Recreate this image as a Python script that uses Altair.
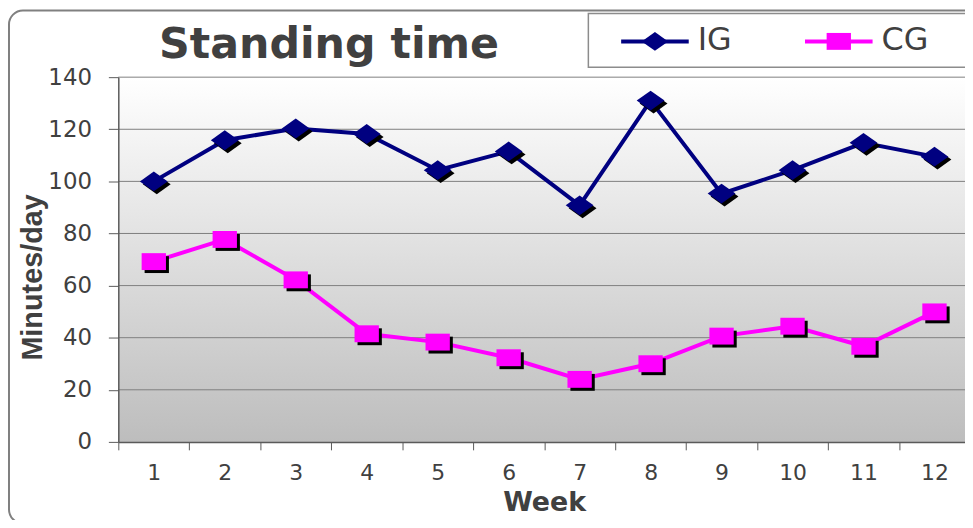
import altair as alt
import pandas as pd

# ---- data ----
weeks = list(range(1, 13))
ig_values = [100.0, 115.8, 120.3, 118.2, 104.3, 111.5, 90.8, 131.0, 95.3, 104.3, 114.8, 109.5]
cg_values = [69.2, 77.7, 62.2, 41.5, 38.3, 32.3, 24.0, 30.0, 40.6, 44.4, 36.7, 49.9]
series_names = ["IG", "CG"]
series_colors = ["#000080", "#ff00ff"]
y_ticks = [0, 20, 40, 60, 80, 100, 120, 140]
chart_title = "Standing time"
x_title = "Week"
y_title = "Minutes/day"

# ---- layout ----
W, H = 852, 367          # view
XR = 857                 # x range (original is cropped at the right)
DIAMOND = "M-1.4,0L0,-1L1.4,0L0,1Z"
SQUARE = "M-1.44,-1L1.44,-1L1.44,1L-1.44,1Z"
shapes = [DIAMOND, SQUARE]
sizes = [400, 289]
legend_sizes = [361, 289]
TEXT_COLOR = "#404040"
AXIS_COLOR = "#5a5a5a"

df = pd.DataFrame({
    "week": weeks * 2,
    "value": ig_values + cg_values,
    "group": [series_names[0]] * len(weeks) + [series_names[1]] * len(weeks),
})
ticks_df = pd.DataFrame({"value": y_ticks[1:]})
one = alt.Data(values=[{}])

x_scale = alt.Scale(type="band", domain=weeks, range=[0, XR], paddingInner=0, paddingOuter=0)
y_scale = alt.Scale(domain=[0, 140], nice=False, zero=True)

x_axis = alt.Axis(
    title=x_title, labelAngle=0, tickBand="extent", grid=False,
    domainColor=AXIS_COLOR, tickColor=AXIS_COLOR, tickSize=8, domainWidth=1.5,
    labelFont="DejaVu Sans", labelFontSize=22, labelColor=TEXT_COLOR, labelPadding=13,
    titleFont="DejaVu Sans", titleFontSize=27, titleFontWeight="bold", titleColor=TEXT_COLOR,
    titleBaseline="alphabetic", titleY=69, zindex=1,
)
y_axis = alt.Axis(
    values=y_ticks, grid=False,
    domainColor=AXIS_COLOR, tickColor=AXIS_COLOR, tickSize=10, domainWidth=1.5,
    labelFont="DejaVu Sans", labelFontSize=23, labelColor=TEXT_COLOR, labelPadding=17,
    labelFlush=False, labelOverlap=False,
    title=y_title, titleFont="Liberation Sans", titleFontSize=29, titleFontWeight="bold",
    titleColor=TEXT_COLOR, titleAngle=270, titleAlign="center", titleBaseline="alphabetic",
    titleX=-77, titleY=201, zindex=1,
)
x_enc = alt.X("week:O", scale=x_scale, axis=x_axis)
y_enc = alt.Y("value:Q", scale=y_scale, axis=y_axis)

# outer rounded frame
frame = alt.Chart(one).mark_rect(
    fill="#ffffff", stroke="#808080", strokeWidth=2, cornerRadius=14
).encode(x=alt.value(-110), x2=alt.value(900), y=alt.value(-67), y2=alt.value(449))

# legend box
legend_box = alt.Chart(one).mark_rect(
    fill="#ffffff", stroke="#8c8c8c", strokeWidth=1.5
).encode(x=alt.value(473), x2=alt.value(900), y=alt.value(-64), y2=alt.value(-10))

# plot-area gradient
plot_bg = alt.Chart(one).mark_rect(
    fill=alt.Gradient(
        gradient="linear",
        stops=[alt.GradientStop(offset=0, color="#ffffff"),
               alt.GradientStop(offset=1, color="#bdbdbd")],
        x1=0, x2=0, y1=0, y2=1,
    )
).encode(x=alt.value(0), x2=alt.value(XR), y=alt.value(0), y2=alt.value(H))

# horizontal gridlines (through the y scale, sharing the y axis)
grid = alt.Chart(ticks_df).mark_rule(color="#7f7f7f", strokeWidth=1).encode(
    y=y_enc, x=alt.value(0), x2=alt.value(XR)
)


def series_layers(name, color, shape, size):
    base = alt.Chart(df).transform_filter(alt.datum.group == name)
    line = base.mark_line(color=color, strokeWidth=4).encode(x=x_enc, y=y_enc)
    shadow = base.mark_point(
        shape=shape, size=size, filled=True, color="#000000", opacity=1,
        strokeWidth=0, xOffset=3, yOffset=3,
    ).encode(x=x_enc, y=y_enc)
    marker = base.mark_point(
        shape=shape, size=size, filled=True, color=color, opacity=1, strokeWidth=0
    ).encode(x=x_enc, y=y_enc)
    return [line, shadow, marker]


def legend_layers(name, color, shape, size, x0):
    line = alt.Chart(one).mark_rule(color=color, strokeWidth=4).encode(
        x=alt.value(x0), x2=alt.value(x0 + 68), y=alt.value(-36)
    )
    sym = alt.Chart(one).mark_point(
        shape=shape, size=size, filled=True, color=color, opacity=1, strokeWidth=0
    ).encode(x=alt.value(x0 + 34), y=alt.value(-36))
    label = alt.Chart(one).mark_text(
        text=name, font="DejaVu Sans", fontSize=32, color=TEXT_COLOR,
        align="left", baseline="alphabetic",
    ).encode(x=alt.value(x0 + 77), y=alt.value(-27))
    return [line, sym, label]


title = alt.Chart(one).mark_text(
    text=chart_title, font="DejaVu Sans", fontSize=43, fontWeight="bold",
    color=TEXT_COLOR, align="center", baseline="alphabetic",
).encode(x=alt.value(212), y=alt.value(-19))

layers = [frame, legend_box, plot_bg, grid]
for n, c, s, z in zip(series_names, series_colors, shapes, sizes):
    layers += series_layers(n, c, s, z)
for n, c, s, z, x0 in zip(series_names, series_colors, shapes, legend_sizes, [506, 691]):
    layers += legend_layers(n, c, s, z, x0)
layers.append(title)

chart = alt.layer(*layers).properties(
    width=W, height=H,
    autosize=alt.AutoSizeParams(type="none"),
    padding={"left": 111, "top": 68, "right": 0, "bottom": 77},
    background="#ffffff",
).configure_view(stroke=None)

chart.save("out.html", embed_options={"renderer": "svg", "actions": False})
